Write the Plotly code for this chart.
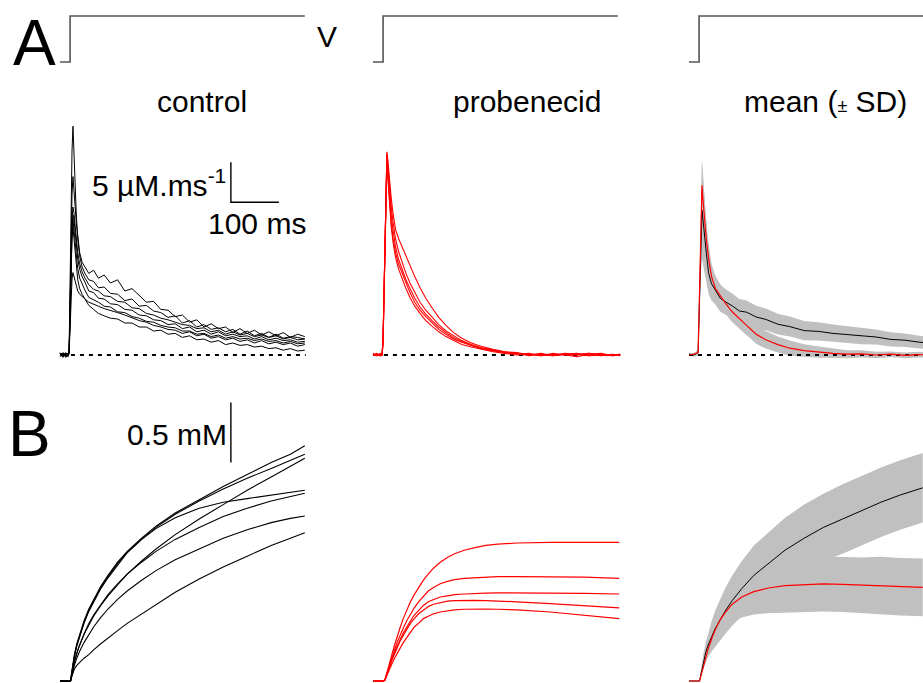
import plotly.graph_objects as go

W, H = 923, 683

# ---------------- data ----------------
# voltage step (arbitrary units, 0 = holding, 1 = step)
V_T = [0, 21, 21, 510]
V_LVL = [0, 0, 1, 1]

# Row A: Ca2+ flux (uM/ms) vs time (ms) -- control, individual fibres
TA = [0, 6, 12, 17, 19, 21, 23, 25, 27, 29, 31, 34, 37, 41, 46, 52, 60, 70, 80, 92,
      105, 120, 135, 150, 165, 180, 195, 210, 225, 240, 255, 270, 285, 300, 315, 330,
      345, 360, 375, 390, 405, 420, 435, 450, 465, 480, 495, 510]
ctrl_A1 = [0.2, -0.3, 0.3, 0.0, 0.5, 9.0, 18.5, 25.5, 28.6, 25.0,
           21.5, 17.5, 14.5, 12.4, 11.0, 10.2, 9.4, 9.2, 8.4, 8.5,
           7.7, 7.6, 6.8, 7.0, 6.1, 6.2, 5.5, 5.3, 4.7, 4.9,
           4.0, 4.3, 3.5, 3.8, 3.2, 3.4, 2.9, 3.2, 2.6, 3.0,
           2.4, 2.7, 2.2, 2.6, 2.1, 2.3, 2.2, 2.0]
ctrl_A2 = [0.1, 0.2, -0.2, 0.1, 0.4, 7.0, 14.5, 20.0, 22.3, 21.0,
           19.0, 16.5, 14.5, 12.8, 11.6, 11.0, 10.2, 10.6, 9.6, 10.0,
           9.0, 9.4, 8.0, 8.3, 7.5, 6.6, 6.7, 5.7, 5.6, 4.8,
           5.0, 4.1, 4.4, 3.5, 3.9, 3.3, 3.5, 2.8, 3.3, 2.7,
           3.1, 2.5, 2.9, 2.4, 2.8, 2.2, 2.6, 2.3]
ctrl_A3 = [-0.1, 0.3, 0.0, -0.2, 0.3, 6.0, 12.5, 17.0, 18.5, 17.8,
           16.5, 14.5, 12.8, 11.4, 10.4, 9.6, 8.8, 8.2, 8.0, 7.4,
           7.3, 6.7, 6.6, 5.9, 5.8, 5.2, 5.0, 4.6, 4.4, 4.1,
           3.8, 3.7, 3.3, 3.4, 2.9, 3.1, 2.6, 2.9, 2.5, 2.7,
           2.3, 2.5, 2.2, 2.4, 2.0, 2.2, 1.9, 2.0]
ctrl_A4 = [0.3, -0.1, 0.1, 0.2, 0.2, 5.5, 12.0, 16.0, 17.5, 17.0,
           15.8, 13.8, 12.0, 10.7, 9.8, 9.1, 8.0, 7.8, 7.1, 7.0,
           6.4, 6.3, 5.7, 5.6, 5.0, 4.9, 4.4, 4.3, 3.8, 3.9,
           3.3, 3.5, 2.9, 3.1, 2.6, 2.9, 2.4, 2.6, 2.3, 2.4,
           2.0, 2.3, 1.9, 2.1, 1.8, 1.9, 1.6, 1.7]
ctrl_A5 = [0.0, 0.2, -0.3, 0.1, 0.4, 5.0, 11.5, 15.5, 17.0, 16.0,
           14.5, 12.5, 10.8, 9.6, 8.8, 8.1, 7.2, 6.9, 6.6, 6.1,
           6.0, 5.4, 5.3, 4.8, 4.6, 4.2, 4.1, 3.7, 3.5, 3.4,
           3.0, 3.0, 2.6, 2.7, 2.3, 2.5, 2.1, 2.3, 2.0, 2.1,
           1.8, 2.0, 1.7, 1.8, 1.5, 1.7, 1.4, 1.5]
ctrl_A6 = [0.2, -0.2, 0.2, 0.0, 0.3, 5.0, 11.0, 14.5, 16.0, 14.8,
           13.0, 11.0, 9.4, 8.3, 7.6, 7.0, 6.2, 5.7, 5.2, 4.9,
           4.6, 4.5, 4.0, 4.0, 3.5, 3.5, 3.0, 3.1, 2.6, 2.7,
           2.2, 2.4, 1.9, 2.0, 1.6, 1.8, 1.3, 1.5, 1.2, 1.3,
           1.0, 1.1, 0.8, 0.9, 0.6, 0.8, 0.5, 0.6]
ctrl_A7 = [-0.2, 0.1, 0.2, -0.1, 0.2, 3.5, 7.0, 9.5, 10.3, 9.8,
           9.2, 8.5, 8.0, 7.6, 7.3, 7.0, 6.6, 6.3, 6.1, 5.8,
           5.6, 5.3, 5.0, 4.6, 4.3, 4.1, 3.7, 3.5, 3.2, 3.1,
           2.7, 2.9, 2.4, 2.6, 2.1, 2.3, 1.9, 2.1, 1.7, 1.9,
           1.5, 1.8, 1.4, 1.6, 1.3, 1.5, 1.1, 1.3]

# Row A: probenecid, individual fibres
TP = [0, 8, 15, 19, 21, 23, 25, 27, 29, 31, 34, 38, 42, 47, 53, 60, 68, 77, 87, 98,
      110, 123, 137, 152, 168, 185, 205, 225, 250, 275, 300, 325, 350, 375, 400, 425,
      450, 475, 500, 515]
prob_A1 = [0.1, -0.1, 0.2, 0.0, 2.0, 8.0, 15.0, 21.5, 25.4, 24.3,
           22.0, 19.6, 17.6, 15.7, 14.6, 13.6, 12.4, 11.1, 9.8, 8.4,
           7.1, 5.9, 4.7, 3.7, 2.8, 2.1, 1.5, 1.1, 0.7, 0.4,
           0.3, 0.0, 0.2, -0.1, 0.1, 0.2, -0.1, 0.1, 0.0, 0.1]
prob_A2 = [0.0, 0.2, -0.1, 0.1, 1.8, 7.5, 14.5, 21.0, 24.8, 22.5,
           19.5, 16.5, 14.5, 12.8, 11.4, 10.3, 9.0, 7.8, 6.6, 5.6,
           4.8, 4.0, 3.2, 2.6, 2.0, 1.6, 1.2, 0.8, 0.5, 0.3,
           0.1, 0.2, -0.1, 0.1, 0.0, -0.2, 0.1, 0.2, -0.1, 0.0]
prob_A3 = [-0.1, 0.1, 0.0, 0.2, 2.2, 8.2, 15.2, 21.2, 25.0, 23.2,
           20.5, 17.5, 15.5, 13.5, 12.0, 10.8, 9.5, 8.3, 7.1, 6.0,
           5.1, 4.3, 3.5, 2.8, 2.2, 1.7, 1.2, 0.9, 0.6, 0.3,
           0.2, -0.1, 0.1, 0.0, 0.2, 0.1, -0.1, 0.0, 0.1, -0.1]
prob_A4 = [0.2, 0.0, 0.1, -0.1, 1.5, 7.0, 14.0, 20.5, 24.5, 22.0,
           19.0, 16.0, 14.0, 12.2, 10.8, 9.6, 8.4, 7.2, 6.1, 5.2,
           4.3, 3.6, 2.9, 2.3, 1.8, 1.3, 1.0, 0.7, 0.4, 0.2,
           0.0, 0.1, -0.1, 0.2, 0.0, 0.1, 0.2, -0.1, 0.0, 0.1]
prob_A5 = [0.0, 0.1, -0.1, 0.0, 2.0, 7.8, 14.8, 21.3, 25.2, 23.8,
           21.0, 18.5, 16.5, 14.5, 13.0, 11.6, 10.3, 9.0, 7.8, 6.6,
           5.6, 4.7, 3.8, 3.0, 2.4, 1.8, 1.3, 0.9, 0.6, 0.4,
           0.2, 0.1, 0.0, -0.1, 0.1, 0.0, 0.2, 0.0, -0.1, 0.1]

# Row A: mean (+/- SD)
TMA = [0, 10, 19, 21, 23, 25, 27, 29, 32, 36, 41, 47, 55, 65, 77, 90, 105, 120, 140, 160,
       185, 210, 240, 270, 300, 330, 360, 390, 420, 450, 480, 500]
mean_ctrl_A = [0.1, 0.0, 0.3, 5.5, 11.5, 15.5, 18.1, 17.0, 15.0, 12.8,
               10.2, 8.9, 8.1, 7.1, 6.6, 6.15, 5.5, 5.35, 4.75, 4.45,
               3.85, 3.55, 3.05, 2.95, 2.7, 2.55, 2.35, 2.25, 1.95, 1.85, 1.6, 1.5]
sd_ctrl_A = [0.2, 0.2, 0.4, 2.0, 3.8, 5.0, 6.1, 5.6, 4.5, 3.5,
             2.6, 2.1, 1.8, 1.7, 1.6, 1.55, 1.5, 1.45, 1.4, 1.35,
             1.3, 1.25, 1.2, 1.15, 1.1, 1.05, 1.0, 0.95, 0.9, 0.85, 0.8, 0.8]
mean_prob_A = [0.0, 0.1, 0.3, 6.0, 12.5, 18.5, 21.2, 19.5, 17.0, 14.5,
               12.0, 9.8, 8.3, 7.4, 6.4, 5.4, 4.5, 3.7, 2.6, 1.9,
               1.3, 0.85, 0.55, 0.35, 0.2, 0.1, 0.15, 0.0, 0.1, -0.05, 0.05, 0.0]
sd_prob_A = [0.1, 0.1, 0.2, 1.5, 2.5, 3.0, 3.2, 3.0, 2.7, 2.3,
             1.9, 1.6, 1.45, 1.4, 1.35, 1.3, 1.3, 1.25, 1.2, 1.1,
             1.0, 0.95, 0.8, 0.7, 0.6, 0.5, 0.45, 0.4, 0.35, 0.35, 0.35, 0.35]

# Row B: [Ca] released (mM) vs time (ms) -- control
TB = [0, 22, 24, 26, 30, 35, 40, 50, 60, 70, 85, 100, 120, 140, 170, 200, 240, 290, 340, 390, 440, 480, 510]
ctrl_B1 = [0, 0, 0.06, 0.12, 0.22, 0.31, 0.38, 0.50, 0.60, 0.68, 0.79, 0.88, 0.99, 1.08, 1.19, 1.29, 1.40, 1.51, 1.62, 1.72, 1.82, 1.89, 1.96]
ctrl_B2 = [0, 0, 0.05, 0.11, 0.20, 0.29, 0.36, 0.48, 0.58, 0.66, 0.77, 0.86, 0.97, 1.07, 1.18, 1.28, 1.39, 1.50, 1.60, 1.69, 1.77, 1.84, 1.89]
ctrl_B3 = [0, 0, 0.06, 0.12, 0.21, 0.30, 0.37, 0.49, 0.59, 0.67, 0.78, 0.87, 0.98, 1.07, 1.18, 1.27, 1.36, 1.44, 1.49, 1.52, 1.55, 1.57, 1.59]
ctrl_B4 = [0, 0, 0.04, 0.09, 0.16, 0.23, 0.29, 0.39, 0.47, 0.54, 0.63, 0.71, 0.80, 0.89, 1.00, 1.10, 1.22, 1.35, 1.47, 1.59, 1.70, 1.79, 1.856]
ctrl_B5 = [0, 0, 0.04, 0.09, 0.16, 0.23, 0.29, 0.39, 0.48, 0.55, 0.64, 0.72, 0.81, 0.89, 0.99, 1.08, 1.18, 1.28, 1.37, 1.44, 1.50, 1.54, 1.564]
ctrl_B6 = [0, 0, 0.03, 0.07, 0.13, 0.19, 0.24, 0.32, 0.39, 0.45, 0.53, 0.60, 0.68, 0.75, 0.84, 0.92, 1.01, 1.10, 1.19, 1.26, 1.32, 1.355, 1.375]
ctrl_B7 = [0, 0, 0.03, 0.06, 0.10, 0.13, 0.15, 0.19, 0.22, 0.26, 0.31, 0.36, 0.42, 0.48, 0.56, 0.64, 0.74, 0.85, 0.95, 1.04, 1.13, 1.19, 1.236]

# Row B: probenecid
TBP = [0, 22, 25, 28, 32, 36, 40, 45, 50, 56, 63, 70, 78, 86, 95, 105, 115, 126, 140, 155,
       170, 190, 210, 235, 260, 300, 369, 440, 513]
prob_B1 = [0, 0, 0.01, 0.05, 0.11, 0.17, 0.23, 0.30, 0.37, 0.44, 0.52, 0.59, 0.66, 0.72, 0.78,
           0.84, 0.89, 0.94, 0.99, 1.03, 1.06, 1.09, 1.11, 1.13, 1.14, 1.15, 1.155, 1.155, 1.155]
prob_B2 = [0, 0, 0.01, 0.05, 0.10, 0.15, 0.20, 0.26, 0.32, 0.38, 0.44, 0.50, 0.56, 0.61, 0.66,
           0.71, 0.75, 0.78, 0.81, 0.83, 0.845, 0.855, 0.86, 0.865, 0.87, 0.87, 0.87, 0.865, 0.856]
prob_B3 = [0, 0, 0.01, 0.05, 0.10, 0.15, 0.19, 0.24, 0.29, 0.34, 0.40, 0.45, 0.50, 0.55, 0.59,
           0.63, 0.66, 0.68, 0.70, 0.71, 0.72, 0.725, 0.73, 0.733, 0.735, 0.735, 0.735, 0.73, 0.725]
prob_B4 = [0, 0, 0.01, 0.05, 0.09, 0.14, 0.18, 0.23, 0.28, 0.33, 0.38, 0.43, 0.48, 0.52, 0.56,
           0.59, 0.62, 0.64, 0.655, 0.665, 0.67, 0.672, 0.672, 0.67, 0.668, 0.66, 0.645, 0.628, 0.61]
prob_B5 = [0, 0, 0.01, 0.04, 0.08, 0.12, 0.15, 0.19, 0.23, 0.27, 0.32, 0.36, 0.41, 0.45, 0.48,
           0.52, 0.54, 0.56, 0.575, 0.585, 0.592, 0.598, 0.60, 0.60, 0.598, 0.592, 0.575, 0.55, 0.52]

# Row B: mean (+/- SD)
TMB = [0, 15, 22, 24, 27, 30, 35, 40, 48, 55, 65, 75, 90, 110, 135, 165, 200, 240, 280, 320,
       360, 400, 440, 487]
mean_ctrl_B = [0, 0, 0, 0.04, 0.10, 0.17, 0.24, 0.30, 0.38, 0.44, 0.51, 0.58, 0.67, 0.77, 0.88, 0.98,
               1.09, 1.19, 1.28, 1.35, 1.42, 1.49, 1.55, 1.61]
sd_ctrl_B = [0, 0, 0, 0.02, 0.04, 0.06, 0.08, 0.10, 0.13, 0.15, 0.17, 0.19, 0.21, 0.23, 0.25, 0.26,
             0.27, 0.28, 0.28, 0.29, 0.29, 0.29, 0.29, 0.29]
mean_prob_B = [0, 0, 0, 0.03, 0.08, 0.13, 0.20, 0.27, 0.36, 0.43, 0.51, 0.57, 0.64, 0.70, 0.745, 0.775,
               0.795, 0.805, 0.81, 0.805, 0.80, 0.795, 0.785, 0.78]
sd_prob_B = [0, 0, 0, 0.01, 0.02, 0.03, 0.04, 0.05, 0.07, 0.09, 0.11, 0.13, 0.15, 0.17, 0.19, 0.21,
             0.22, 0.23, 0.23, 0.23, 0.23, 0.24, 0.24, 0.24]

# scale bars (data units)
SCALE_A = dict(t=356, v=19.1, dv=5, dt=100)   # 5 uM/ms, 100 ms
SCALE_B = dict(t=356, v=1.82, dv=0.5)         # 0.5 mM

COL_TITLES = ["control", "probenecid", "mean (<span style='font-size:18px'>±</span> SD)"]

# ---------------- layout geometry (pixels) ----------------
PX_PER_MS = 0.48
X0 = [60, 373, 689]                       # pixel of t = 0 in each column
COL_SPAN = [(44, 322), (356, 642), (671, 923)]
# rows: (top px, bottom px, baseline px, px per unit)
ROWS = [(4, 74, 62, 46), (108, 372, 355, 8), (392, 683, 681, 120)]

FONT = "Arial, 'Liberation Sans', Helvetica, sans-serif"
RED = "#ff0000"
GREY_BAND = "#c0c0c0"
VCOL = "#555555"

fig = go.Figure()
layout = dict(width=W, height=H, margin=dict(l=0, r=0, t=0, b=0),
              paper_bgcolor="white", plot_bgcolor="rgba(0,0,0,0)",
              showlegend=False, font=dict(family=FONT, color="black"))


def suf(r, c):
    n = r * 3 + c + 1
    return "" if n == 1 else str(n)


for r in range(3):
    for c in range(3):
        s = suf(r, c)
        L, R = COL_SPAN[c]
        T, B, Y0, K = ROWS[r]
        layout["xaxis" + s] = dict(domain=[L / W, R / W],
                                   range=[(L - X0[c]) / PX_PER_MS, (R - X0[c]) / PX_PER_MS],
                                   visible=False, anchor="y" + s, fixedrange=True)
        layout["yaxis" + s] = dict(domain=[1 - B / H, 1 - T / H],
                                   range=[(Y0 - B) / K, (Y0 - T) / K],
                                   visible=False, anchor="x" + s, fixedrange=True)


def line(x, y, r, c, color="black", width=1.0, dash=None, shape="linear"):
    s = suf(r, c)
    fig.add_trace(go.Scatter(x=x, y=y, mode="lines", xaxis="x" + s, yaxis="y" + s,
                             line=dict(color=color, width=width, dash=dash, shape=shape),
                             hoverinfo="skip"))


def band(t, m, sd, r, c):
    s = suf(r, c)
    up = [a + b for a, b in zip(m, sd)]
    lo = [a - b for a, b in zip(m, sd)]
    fig.add_trace(go.Scatter(x=list(t) + list(t)[::-1], y=up + lo[::-1], mode="lines",
                             fill="toself", fillcolor=GREY_BAND, line=dict(width=0),
                             xaxis="x" + s, yaxis="y" + s, hoverinfo="skip"))


# voltage steps
for c in range(3):
    line(V_T, V_LVL, 0, c, color=VCOL, width=1.6)

DASH = "4px,5px"
# Row A control
line([4, 512], [0, 0], 1, 0, width=2, dash=DASH)
for tr in [ctrl_A7, ctrl_A6, ctrl_A5, ctrl_A4, ctrl_A3, ctrl_A2, ctrl_A1]:
    line(TA, tr, 1, 0, width=1.0)
# Row A probenecid
line([4, 515], [0, 0], 1, 1, width=2, dash=DASH)
for tr in [prob_A1, prob_A2, prob_A3, prob_A4, prob_A5]:
    line(TP, tr, 1, 1, color=RED, width=1.1)
# Row A mean
band(TMA, mean_ctrl_A, sd_ctrl_A, 1, 2)
band(TMA, mean_prob_A, sd_prob_A, 1, 2)
line([0, 520], [0, 0], 1, 2, width=2, dash=DASH)
line(TMA, mean_ctrl_A, 1, 2, width=1.0)
line(TMA, mean_prob_A, 1, 2, color=RED, width=1.2)

# Row B control
for tr in [ctrl_B1, ctrl_B2, ctrl_B3, ctrl_B4, ctrl_B5, ctrl_B6, ctrl_B7]:
    line(TB, tr, 2, 0, width=1.1)
# Row B probenecid
for tr in [prob_B1, prob_B2, prob_B3, prob_B4, prob_B5]:
    line(TBP, tr, 2, 1, color=RED, width=1.2)
# Row B mean
band(TMB, mean_ctrl_B, sd_ctrl_B, 2, 2)
band(TMB, mean_prob_B, sd_prob_B, 2, 2)
line(TMB, mean_ctrl_B, 2, 2, width=1.0)
line(TMB, mean_prob_B, 2, 2, color=RED, width=1.2)

# scale bars
sa = SCALE_A
line([sa["t"], sa["t"], sa["t"] + sa["dt"]], [sa["v"] + sa["dv"], sa["v"], sa["v"]], 1, 0, width=1.4)
sb = SCALE_B
line([sb["t"], sb["t"]], [sb["v"], sb["v"] + sb["dv"]], 2, 0, width=1.4)

# ---------------- text ----------------
ann = []


def text(s, px, py, size, xanchor="center", yanchor="middle"):
    ann.append(dict(text=s, x=px / W, y=1 - py / H, xref="paper", yref="paper",
                    xanchor=xanchor, yanchor=yanchor, showarrow=False,
                    font=dict(size=size, family=FONT, color="black")))


text("A", 34, 43, 64)
text("B", 30, 434, 64)
text("V", 327, 36, 30)
text(COL_TITLES[0], 202, 101, 30)
text(COL_TITLES[1], 527, 101, 30)
text(COL_TITLES[2], 825, 101, 30)
text("5 µM.ms<sup>-1</sup>", 228, 183, 30, xanchor="right")
text("100 ms", 257, 223, 30)
text("0.5 mM", 229, 434, 30, xanchor="right")

layout["annotations"] = ann
fig.update_layout(**layout)
fig.write_html("out.html", config={"displayModeBar": False, "staticPlot": True},
               post_script="document.body.style.margin='0px';document.body.style.overflow='hidden';")
